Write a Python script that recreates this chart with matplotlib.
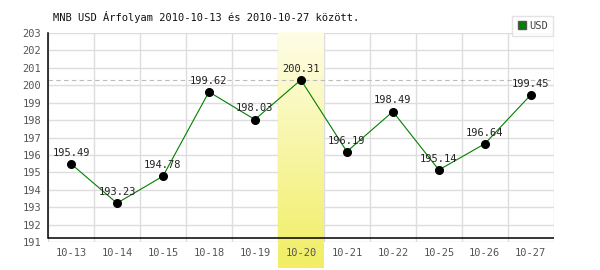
import numpy as np
import matplotlib
matplotlib.use("Agg")
from matplotlib import pyplot as plt
from matplotlib.colors import LinearSegmentedColormap

dates = ["10-13", "10-14", "10-15", "10-18", "10-19", "10-20",
         "10-21", "10-22", "10-25", "10-26", "10-27"]
usd = [195.49, 193.23, 194.78, 199.62, 198.03, 200.31,
       196.19, 198.49, 195.14, 196.64, 199.45]
yticks = list(range(191, 204))
highlight = "10-20"

plt.rcParams['font.family'] = ['DejaVu Sans Mono']

fig = plt.figure(figsize=(6, 2.7), dpi=100)
ax = fig.add_axes([0.08, 0.1037, 0.843, 0.774])

x = np.arange(len(dates))

# grid
for k in range(len(dates) + 1):
    ax.axvline(k - 0.5, color="#dddddd", lw=1, zorder=0)
for v in yticks:
    ax.axhline(v, color="#dddddd", lw=1, zorder=0)

# highlighted day, gradient band reaching below the axis
hi = dates.index(highlight)
cmap = LinearSegmentedColormap.from_list("hl", ["#fefde6", "#f1ee64"])
grad = np.linspace(0, 1, 100).reshape(-1, 1)
ax.imshow(grad, cmap=cmap, aspect="auto", origin="upper",
          extent=[hi - 0.5, hi + 0.5, 189.5, 203], zorder=0.5, clip_on=False)
ax.set_xlim(-0.5, len(dates) - 0.5)
ax.set_ylim(191, 203)

# max level
ax.axhline(max(usd), color="#bbbbbb", lw=0.8, ls=(0, (4, 3)), zorder=1)

# x axis line sits a little above the lowest grid line
ax.axhline(191.25, color="black", lw=1.1, zorder=2)
ax.plot([-0.5, -0.5], [191.25, 203], color="black", lw=1.1, zorder=2, clip_on=False)

ax.plot(x, usd, color="#008000", lw=0.8, marker="o", ms=5.5,
        mfc="black", mec="black", zorder=3, label="USD")
for xi, v in zip(x, usd):
    ax.text(xi, v + 0.35, f"{v:.2f}", ha="center", va="bottom",
            fontsize=7.5, color="#222222", zorder=4)

for s in ax.spines.values():
    s.set_visible(False)
ax.set_xticks(x)
ax.set_xticklabels(dates)
ax.set_yticks(yticks)
ax.tick_params(length=0, labelsize=7.5, labelcolor="#555555", pad=4)
ax.tick_params(axis="y", pad=5)

fig.text(0.088, 0.937, "MNB USD Árfolyam 2010-10-13 és 2010-10-27 között.",
         fontsize=7.5, color="#111111", va="center")

leg = ax.legend(handles=[plt.Line2D([], [], ls="none", marker="s", ms=6,
                                    mfc="#008000", mec="#555555")],
                labels=["USD"], loc="lower right", bbox_to_anchor=(0.998, 0.986),
                frameon=True, fancybox=False, fontsize=7.5, handlelength=0.8,
                handletextpad=0.3, borderpad=0.5, borderaxespad=0.0)
leg.get_frame().set_edgecolor("#dddddd")
leg.get_frame().set_linewidth(1)
for t in leg.get_texts():
    t.set_color("#444444")

fig.savefig("out.png", dpi=100)
